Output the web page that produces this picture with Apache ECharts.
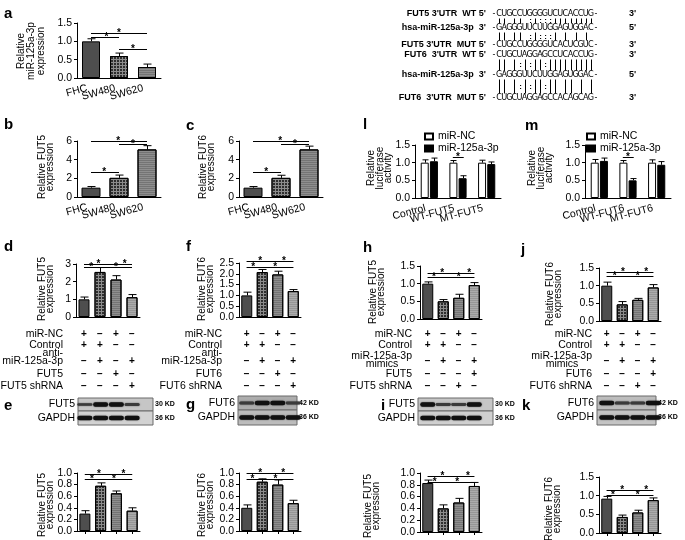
<!DOCTYPE html>
<html>
<head>
<meta charset="utf-8">
<script src="https://cdn.jsdelivr.net/npm/echarts@6/dist/echarts.min.js"></script>
<style>
  html, body { margin: 0; padding: 0; background: #fff; }
  #main { width: 685px; height: 540px; }
</style>
</head>
<body>
<div id="main"></div>
<script>
const FONT = '"Liberation Sans", Arial, Helvetica, sans-serif';
const NARROW = '"Liberation Sans Narrow", "DejaVu Sans Condensed", "Liberation Sans", sans-serif';

// ---- values ----
const cellLines = ['FHC', 'SW480', 'SW620'];
const mir125Level = [1.0, 0.6, 0.3];
const mir125Err = [0.07, 0.08, 0.08];
const fut5Cell = [1.0, 2.05, 5.1];
const fut5CellErr = [0.12, 0.3, 0.4];
const fut6Cell = [1.0, 2.05, 5.1];
const fut6CellErr = [0.12, 0.28, 0.35];

const lucGroups5 = ['Control', 'WT-FUT5', 'MT-FUT5'];
const lucGroups6 = ['Control', 'WT-FUT6', 'MT-FUT6'];
const luc5NC = [1.0, 1.0, 1.0];
const luc5NCErr = [0.08, 0.06, 0.07];
const luc5Mir = [1.04, 0.56, 0.96];
const luc5MirErr = [0.09, 0.07, 0.06];
const luc6NC = [1.0, 1.0, 1.0];
const luc6NCErr = [0.09, 0.06, 0.08];
const luc6Mir = [1.05, 0.5, 0.94];
const luc6MirErr = [0.08, 0.05, 0.09];

const lanes = ['1', '2', '3', '4'];
const fut5Anti = [1.0, 2.55, 2.12, 1.12];
const fut5AntiErr = [0.13, 0.25, 0.22, 0.15];
const fut6Anti = [1.0, 2.08, 1.97, 1.2];
const fut6AntiErr = [0.15, 0.12, 0.15, 0.07];
const fut5Mimic = [1.0, 0.5, 0.6, 0.96];
const fut5MimicErr = [0.05, 0.05, 0.1, 0.07];
const fut6Mimic = [1.0, 0.47, 0.6, 0.95];
const fut6MimicErr = [0.1, 0.08, 0.04, 0.08];
const fut5AntiWB = [0.3, 0.78, 0.65, 0.35];
const fut5AntiWBErr = [0.05, 0.05, 0.04, 0.05];
const fut6AntiWB = [0.4, 0.85, 0.8, 0.48];
const fut6AntiWBErr = [0.05, 0.05, 0.08, 0.05];
const fut5MimicWB = [0.83, 0.4, 0.5, 0.78];
const fut5MimicWBErr = [0.05, 0.06, 0.07, 0.06];
const fut6MimicWB = [0.92, 0.43, 0.55, 0.88];
const fut6MimicWBErr = [0.06, 0.05, 0.06, 0.06];

// significance brackets: [from, to, y value, asterisk position]
const sigA = [[0, 2, 1.23, 1.0], [0, 1, 1.12, 0.55], [1, 2, 0.8, 1.5]];
const sigB = [[0, 2, 6.0, 0.97], [1, 2, 5.7, 1.5], [0, 1, 2.7, 0.47]];
const sigC = [[0, 2, 6.0, 0.97], [1, 2, 5.7, 1.5], [0, 1, 2.7, 0.47]];
const sigL = [[0.82, 1.2, 1.15, 1.0]];
const sigM = [[0.82, 1.2, 1.15, 1.0]];
const sigD = [[0, 3, 3.0, 0.9], [0, 3, 3.0, 2.55], [0, 3, 2.83, 0.45], [0, 3, 2.83, 2.0]];
const sigF = [[0, 3, 2.6, 0.87], [0, 3, 2.6, 2.4], [0, 3, 2.32, 0.42], [0, 3, 2.32, 1.84]];
const sigH = [[0, 3, 1.3, 0.93], [0, 3, 1.3, 2.67], [0, 3, 1.19, 0.4], [0, 3, 1.19, 2.0]];
const sigJ = [[0, 3, 1.38, 1.05], [0, 3, 1.38, 2.55], [0, 3, 1.27, 0.52], [0, 3, 1.27, 2.0]];
const sigE = [[0, 3, 0.98, 0.9], [0, 3, 0.98, 2.45], [0, 3, 0.89, 0.45], [0, 3, 0.89, 1.85]];
const sigG = [[0, 3, 1.0, 0.87], [0, 3, 1.0, 2.35], [0, 3, 0.9, 0.37], [0, 3, 0.9, 1.85]];
const sigI = [[0, 3, 0.95, 0.95], [0, 3, 0.95, 2.6], [0, 3, 0.84, 0.45], [0, 3, 0.84, 1.9]];
const sigK = [[0, 3, 1.16, 1.0], [0, 3, 1.16, 2.55], [0, 3, 1.02, 0.4], [0, 3, 1.02, 2.0]];

// treatment tables
const antiRows5 = ['miR-NC', 'Control', 'anti-\nmiR-125a-3p', 'FUT5', 'FUT5 shRNA'];
const antiRows6 = ['miR-NC', 'Control', 'anti-\nmiR-125a-3p', 'FUT6', 'FUT6 shRNA'];
const antiSigns = [['+', '−', '+', '−'], ['+', '+', '−', '−'], ['−', '+', '−', '+'], ['−', '−', '+', '−'], ['−', '−', '−', '+']];
const mimicRows5 = ['miR-NC', 'Control', 'miR-125a-3p\nmimics', 'FUT5', 'FUT5 shRNA'];
const mimicRows6 = ['miR-NC', 'Control', 'miR-125a-3p\nmimics', 'FUT6', 'FUT6 shRNA'];
const mimicSigns = [['+', '−', '+', '−'], ['+', '+', '−', '−'], ['−', '+', '−', '+'], ['−', '−', '−', '+'], ['−', '−', '+', '−']];

// western blot band strength per lane
const bandFut5Anti = [0.4, 1, 1, 0.5];
const bandFut6Anti = [0.5, 1, 1, 0.45];
const bandFut5Mimic = [1, 0.45, 0.45, 1];
const bandFut6Mimic = [1, 0.5, 0.5, 1];
const bandGapdh = [1, 1, 1, 1];

// binding site sequences
const seqRows = [
  ["FUT5 3'UTR  WT 5'", '-CUGCCUGGGGUCUCACCUG-', "3'"],
  ["hsa-miR-125a-3p  3'", '-GAGGGUUCUUGGAGUGGAC-', "5'"],
  ["FUT5 3'UTR  MUT 5'", '-CUGCCUGGGGUCACUCGUC-', "3'"],
  ["FUT6  3'UTR  WT 5'", '-CUGCUAGGAGCCUCACCUG-', "3'"],
  ["hsa-miR-125a-3p  3'", '-GAGGGUUCUUGGAGUGGAC-', "5'"],
  ["FUT6  3'UTR  MUT 5'", '-CUGCUAGGAGCCACAGCAG-', "3'"]
];
const seqPairs = [[0, 1], [1, 2], [3, 4], [4, 5]];

// ---- styles ----
const fills = {
  dark: { color: '#4e4e4e' },
  check: { color: '#8c8c8c', decal: { symbol: 'rect', symbolSize: 1, dashArrayX: [2, 1], dashArrayY: [2, 1], color: '#2e2e2e' } },
  lines: { color: '#8e8e8e', decal: { symbol: 'rect', symbolSize: 1, dashArrayX: [10, 0], dashArrayY: [1, 1], color: 'rgba(0,0,0,0.18)' } },
  light: { color: '#ababab', decal: { symbol: 'rect', symbolSize: 1, dashArrayX: [10, 0], dashArrayY: [1, 1], color: 'rgba(0,0,0,0.12)' } }
};
const fill3 = ['dark', 'check', 'lines'];
const fill4 = ['dark', 'check', 'lines', 'light'];

const grids = [], xAxes = [], yAxes = [], series = [], legends = [];

function errRender(offset, cap) {
  return function (params, api) {
    const base = api.coord([api.value(0), api.value(1)]);
    const top = api.coord([api.value(0), api.value(2)]);
    const x = Math.round(base[0] + offset) + 0.5;
    return {
      type: 'group', children: [
        { type: 'line', shape: { x1: x, y1: base[1], x2: x, y2: top[1] }, style: { stroke: '#000', lineWidth: 1 } },
        { type: 'line', shape: { x1: x - cap, y1: top[1], x2: x + cap, y2: top[1] }, style: { stroke: '#000', lineWidth: 1 } }
      ]
    };
  };
}

function sigRender(params, api) {
  const bw = api.size([1, 0])[0];
  const px = v => { const i = Math.floor(v); return api.coord([i, 0])[0] + (v - i) * bw; };
  const y = Math.round(api.coord([0, api.value(1)])[1]) + 0.5;
  const x1 = px(api.value(2)), x2 = px(api.value(3)), xs = px(api.value(4));
  return {
    type: 'group', children: [
      { type: 'line', shape: { x1: x1, y1: y, x2: x2, y2: y }, style: { stroke: '#000', lineWidth: 1 } },
      { type: 'text', style: { text: '*', x: xs, y: y + 5, align: 'center', verticalAlign: 'bottom', fill: '#000', font: 'bold 10px ' + FONT } }
    ]
  };
}

function barPanel(p) {
  const gi = grids.length;
  grids.push({ left: p.box[0], top: p.box[1], width: p.box[2], height: p.box[3] });
  xAxes.push({
    type: 'category', gridIndex: gi, data: p.cats,
    axisLine: { lineStyle: { color: '#000', width: 1 } },
    axisTick: { show: !!p.ticks, alignWithLabel: true, length: 3, lineStyle: { color: '#000' } },
    axisLabel: p.showLabels
      ? { rotate: 15, fontSize: 10.5, color: '#000', margin: 9, padding: [0, 4, 0, 0], fontFamily: FONT, interval: 0 }
      : { show: false }
  });
  yAxes.push({
    type: 'value', gridIndex: gi, min: 0, max: p.yMax, interval: p.interval,
    axisLine: { show: true, lineStyle: { color: '#000', width: 1 } },
    axisTick: { show: true, length: 3, lineStyle: { color: '#000' } },
    splitLine: { show: false },
    axisLabel: {
      fontSize: 10.5, color: '#000', margin: 5, fontFamily: FONT,
      showMinLabel: true, showMaxLabel: true, hideOverlap: false,
      formatter: v => v.toFixed(p.decimals)
    }
  });
  p.groups.forEach(g => {
    series.push({
      type: 'bar', name: g.name, xAxisIndex: gi, yAxisIndex: gi,
      barWidth: p.barWidth, barGap: p.barGap || '30%',
      itemStyle: Object.assign({ borderColor: '#000', borderWidth: 1 }, g.color ? { color: g.color } : {}),
      data: g.values.map((v, i) => ({
        value: v,
        itemStyle: g.fills ? Object.assign({ borderColor: '#000', borderWidth: 1 }, fills[g.fills[i]]) : undefined
      }))
    });
  });
  p.groups.forEach(g => {
    series.push({
      type: 'custom', xAxisIndex: gi, yAxisIndex: gi, silent: true, z: 3,
      encode: { x: 0, y: 1 },
      renderItem: errRender(g.offset || 0, p.cap),
      data: g.values.map((v, i) => [i, v, v + g.errors[i]])
    });
  });
  series.push({
    type: 'custom', xAxisIndex: gi, yAxisIndex: gi, silent: true, z: 4,
    encode: { x: 0, y: 1 },
    renderItem: sigRender,
    data: p.sig.map(s => [0, s[2], s[0], s[1], s[3]])
  });
  return gi;
}

// ---- panels ----
const gA = barPanel({ box: [77, 23, 84, 55], cats: cellLines, showLabels: true, yMax: 1.5, interval: 0.5, decimals: 1,
  barWidth: 18, cap: 4, sig: sigA, groups: [{ values: mir125Level, errors: mir125Err, fills: fill3 }] });
const gB = barPanel({ box: [77, 141, 84, 56], cats: cellLines, showLabels: true, yMax: 6, interval: 2, decimals: 0,
  barWidth: 19, cap: 4, sig: sigB, groups: [{ values: fut5Cell, errors: fut5CellErr, fills: fill3 }] });
const gC = barPanel({ box: [239, 141, 84, 56], cats: cellLines, showLabels: true, yMax: 6, interval: 2, decimals: 0,
  barWidth: 19, cap: 4, sig: sigC, groups: [{ values: fut6Cell, errors: fut6CellErr, fills: fill3 }] });
const gL = barPanel({ box: [415, 145, 86, 53], cats: lucGroups5, showLabels: true, yMax: 1.5, interval: 0.5, decimals: 1,
  barWidth: 8, barGap: '15%', cap: 3, sig: sigL, groups: [
    { name: 'miR-NC', color: '#fff', values: luc5NC, errors: luc5NCErr, offset: -4.6 },
    { name: 'miR-125a-3p', color: '#000', values: luc5Mir, errors: luc5MirErr, offset: 4.6 }] });
const gM = barPanel({ box: [585, 145, 86, 53], cats: lucGroups6, showLabels: true, yMax: 1.5, interval: 0.5, decimals: 1,
  barWidth: 8, barGap: '15%', cap: 3, sig: sigM, groups: [
    { name: 'miR-NC', color: '#fff', values: luc6NC, errors: luc6NCErr, offset: -4.6 },
    { name: 'miR-125a-3p', color: '#000', values: luc6Mir, errors: luc6MirErr, offset: 4.6 }] });
const gD = barPanel({ box: [76, 264, 64, 53], cats: lanes, yMax: 3, interval: 1, decimals: 0,
  barWidth: 11, cap: 4, sig: sigD, groups: [{ values: fut5Anti, errors: fut5AntiErr, fills: fill4 }] });
const gF = barPanel({ box: [239, 263, 62, 54], cats: lanes, yMax: 2.5, interval: 0.5, decimals: 1,
  barWidth: 11, cap: 4, sig: sigF, groups: [{ values: fut6Anti, errors: fut6AntiErr, fills: fill4 }] });
const gH = barPanel({ box: [420, 266, 62, 53], cats: lanes, yMax: 1.5, interval: 0.5, decimals: 1,
  barWidth: 11, cap: 4, sig: sigH, groups: [{ values: fut5Mimic, errors: fut5MimicErr, fills: fill4 }] });
const gJ = barPanel({ box: [599, 268, 62, 53], cats: lanes, yMax: 1.5, interval: 0.5, decimals: 1,
  barWidth: 11, cap: 4, sig: sigJ, groups: [{ values: fut6Mimic, errors: fut6MimicErr, fills: fill4 }] });
const gE = barPanel({ box: [77, 473, 63, 58], cats: lanes, ticks: true, yMax: 1.0, interval: 0.2, decimals: 1,
  barWidth: 11, cap: 4, sig: sigE, groups: [{ values: fut5AntiWB, errors: fut5AntiWBErr, fills: fill4 }] });
const gG = barPanel({ box: [239, 473, 62, 58], cats: lanes, ticks: true, yMax: 1.0, interval: 0.2, decimals: 1,
  barWidth: 11, cap: 4, sig: sigG, groups: [{ values: fut6AntiWB, errors: fut6AntiWBErr, fills: fill4 }] });
const gI = barPanel({ box: [420, 473, 62, 59], cats: lanes, ticks: true, yMax: 1.0, interval: 0.2, decimals: 1,
  barWidth: 11, cap: 4, sig: sigI, groups: [{ values: fut5MimicWB, errors: fut5MimicWBErr, fills: fill4 }] });
const gK = barPanel({ box: [599, 477, 62, 56], cats: lanes, ticks: true, yMax: 1.5, interval: 0.5, decimals: 1,
  barWidth: 11, cap: 4, sig: sigK, groups: [{ values: fut6MimicWB, errors: fut6MimicWBErr, fills: fill4 }] });

[[424, 131], [586, 131]].forEach(pos => {
  legends.push({
    left: pos[0], top: pos[1], padding: 0, orient: 'vertical', icon: 'rect', itemWidth: 8, itemHeight: 6, itemGap: 1,
    selectedMode: false, data: ['miR-NC', 'miR-125a-3p'],
    textStyle: { fontSize: 10.5, lineHeight: 10, color: '#000', fontFamily: FONT }
  });
});

const chart = echarts.init(document.getElementById('main'));
chart.setOption({
  animation: false,
  backgroundColor: '#fff',
  textStyle: { fontFamily: FONT },
  grid: grids, xAxis: xAxes, yAxis: yAxes, legend: legends, series: series
});

// ---- annotations (letters, titles, tables, blots, sequences) ----
const gfx = [];
function txt(x, y, text, font, align, vAlign, rot, lh) {
  const st = { text: text, font: font, fill: '#000', align: align || 'left', verticalAlign: vAlign || 'middle' };
  if (lh) st.lineHeight = lh;
  gfx.push({ type: 'text', x: x, y: y, rotation: rot || 0, silent: true, style: st });
}
const laneX = (gi, i) => chart.convertToPixel({ xAxisIndex: gi }, i);

// panel letters
[['a', 4, 14], ['b', 4, 125], ['c', 186, 126], ['l', 363, 125], ['m', 525, 126], ['d', 4, 247], ['f', 186, 247],
 ['h', 363, 248], ['j', 521, 250], ['e', 4, 406], ['g', 186, 405], ['i', 381, 406], ['k', 522, 406]]
  .forEach(l => txt(l[1], l[2], l[0], 'bold 15px ' + FONT, 'left', 'middle'));

// y axis titles
const R = Math.PI / 2;
txt(31, 51, 'Relative\nmiR-125a-3p\nexpression', '10px ' + FONT, 'center', 'middle', R, 10);
txt(46, 167, 'Relative FUT5\nexpression', '10px ' + FONT, 'center', 'middle', R, 8.5);
txt(207, 167, 'Relative FUT6\nexpression', '10px ' + FONT, 'center', 'middle', R, 8.5);
txt(380, 168, 'Relative\nluciferase\nactivity', '10px ' + FONT, 'center', 'middle', R, 8.5);
txt(541, 168, 'Relative\nluciferase\nactivity', '10px ' + FONT, 'center', 'middle', R, 8.5);
txt(46, 289, 'Relative FUT5\nexpression', '10px ' + FONT, 'center', 'middle', R, 8.5);
txt(206, 289, 'Relative FUT6\nexpression', '10px ' + FONT, 'center', 'middle', R, 8.5);
txt(377, 292, 'Relative FUT5\nexpression', '10px ' + FONT, 'center', 'middle', R, 8.5);
txt(554, 294, 'Relative FUT6\nexpression', '10px ' + FONT, 'center', 'middle', R, 8.5);
txt(46, 505, 'Relative FUT5\nexpression', '10px ' + FONT, 'center', 'middle', R, 8.5);
txt(206, 505, 'Relative FUT6\nexpression', '10px ' + FONT, 'center', 'middle', R, 8.5);
txt(372, 506, 'Relative FUT5\nexpression', '10px ' + FONT, 'center', 'middle', R, 8.5);
txt(553, 509, 'Relative FUT6\nexpression', '10px ' + FONT, 'center', 'middle', R, 8.5);

// treatment tables
function table(gi, right, labels, signs, rowY, signY) {
  labels.forEach((lab, r) => {
    const parts = lab.split('\n');
    if (parts.length === 2 && parts[1] === 'mimics') {
      txt(right, rowY[r] - 1, parts[0], '10.5px ' + FONT, 'right', 'middle');
      txt(right - 30, rowY[r] + 7, parts[1], '10.5px ' + FONT, 'center', 'middle');
    } else if (parts.length === 2) {
      txt(right, rowY[r] - 4, parts[0], '10.5px ' + FONT, 'right', 'middle');
      txt(right, rowY[r] + 3.5, parts[1], '10.5px ' + FONT, 'right', 'middle');
    } else {
      txt(right, rowY[r], lab, '10.5px ' + FONT, 'right', 'middle');
    }
    signs[r].forEach((s, i) => txt(laneX(gi, i), signY[r], s, 'bold 10px ' + FONT, 'center', 'middle'));
  });
}
const tRowY = [334, 345, 357.5, 374, 386];
const tSignY = [334, 345, 361, 374, 386];
table(gD, 63, antiRows5, antiSigns, tRowY, tSignY);
table(gF, 222, antiRows6, antiSigns, tRowY, tSignY);
table(gH, 412, mimicRows5, mimicSigns, tRowY, tSignY);
table(gJ, 592, mimicRows6, mimicSigns, tRowY, tSignY);

// western blots
function blot(gi, x0, x1, y0, ySep, y1, name, kd, bands, shades) {
  gfx.push({ type: 'rect', silent: true, shape: { x: x0, y: y0, width: x1 - x0, height: ySep - y0 },
    style: { fill: shades[0], stroke: '#6a6a6a', lineWidth: 1 } });
  gfx.push({ type: 'rect', silent: true, shape: { x: x0, y: ySep, width: x1 - x0, height: y1 - ySep },
    style: { fill: shades[1], stroke: '#6a6a6a', lineWidth: 1 } });
  const rows = [[name, (y0 + ySep) / 2, bands, kd[0]], ['GAPDH', (ySep + y1) / 2, bandGapdh, kd[1]]];
  rows.forEach(row => {
    txt(x0 - 3, row[1], row[0], '10.5px ' + FONT, 'right', 'middle');
    txt(x1 + 2, row[1], row[3], 'bold 7px ' + FONT, 'left', 'middle');
    row[2].forEach((b, i) => {
      const cx = laneX(gi, i);
      const h = 1.5 + 3 * b;
      gfx.push({ type: 'rect', silent: true, shape: { x: cx - 7.5, y: row[1] - h / 2, width: 15, height: h, r: h / 2 },
        style: { fill: b > 0.7 ? '#111' : '#3a3a3a', shadowBlur: 1.5, shadowColor: 'rgba(0,0,0,0.6)' } });
    });
  });
}
blot(gE, 78, 153, 398, 411, 425, 'FUT5', ['30 KD', '36 KD'], bandFut5Anti, ['#c6c6c6', '#d2d2d2']);
blot(gG, 238, 297, 396, 410, 425, 'FUT6', ['42 KD', '36 KD'], bandFut6Anti, ['#adadad', '#bcbcbc']);
blot(gI, 418, 493, 398, 411, 425, 'FUT5', ['30 KD', '36 KD'], bandFut5Mimic, ['#c6c6c6', '#d0d0d0']);
blot(gK, 597, 656, 396, 410, 425, 'FUT6', ['42 KD', '36 KD'], bandFut6Mimic, ['#bdbdbd', '#c4c4c4']);

// binding site sequences
const seqY = [14, 28, 45, 55, 75, 98];
const seqX0 = 494, pitch = 5.1;
seqRows.forEach((row, r) => {
  txt(486, seqY[r], row[0], 'bold 9px ' + FONT, 'right', 'middle');
  row[1].split('').forEach((ch, k) => txt(seqX0 + k * pitch, seqY[r], ch, '9px ' + NARROW, 'center', 'middle'));
  txt(629, seqY[r], row[2], 'bold 9px ' + FONT, 'left', 'middle');
});
const wc = { AU: 1, UA: 1, GC: 1, CG: 1 }, wobble = { GU: 1, UG: 1 };
seqPairs.forEach(pr => {
  const a = seqRows[pr[0]][1], b = seqRows[pr[1]][1];
  const ya = seqY[pr[0]] + 4.5, yb = seqY[pr[1]] - 4.5;
  for (let k = 1; k < a.length - 1; k++) {
    const x = Math.round(seqX0 + k * pitch) + 0.5;
    const key = a[k] + b[k];
    if (wc[key]) {
      gfx.push({ type: 'line', silent: true, shape: { x1: x, y1: ya, x2: x, y2: yb }, style: { stroke: '#000', lineWidth: 1 } });
    } else if (wobble[key]) {
      txt(x, (ya + yb) / 2, ':', 'bold 8px ' + FONT, 'center', 'middle');
    }
  }
});

chart.setOption({ graphic: { elements: gfx } });
</script>
</body>
</html>
